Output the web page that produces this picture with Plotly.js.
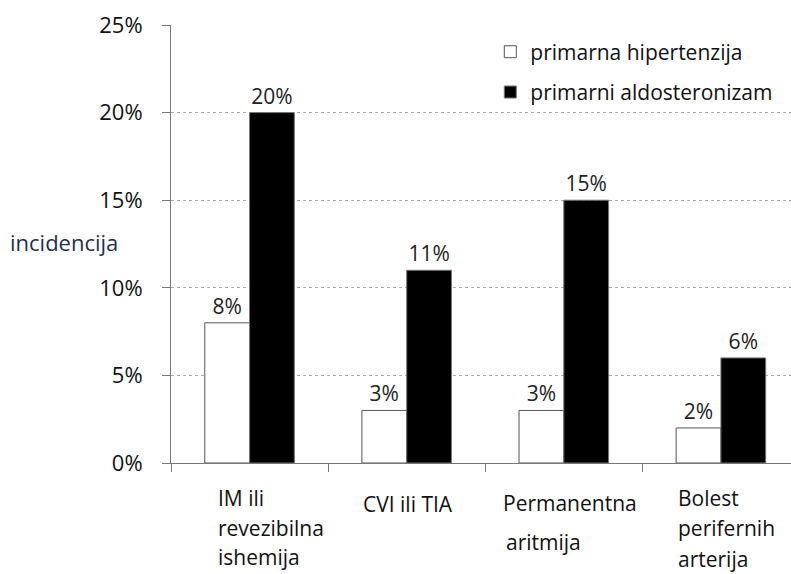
<!DOCTYPE html>
<html>
<head>
<meta charset="utf-8">
<script src="https://cdn.plot.ly/plotly-3.0.1.min.js"></script>
<style>html,body{margin:0;padding:0;background:#fff}#chart{width:791px;height:574px}</style>
</head>
<body>
<div id="chart"></div>
<script>
const categories = ["IM ili revezibilna ishemija", "CVI ili TIA", "Permanentna aritmija", "Bolest perifernih arterija"];
const categoryLines = [["IM ili", "revezibilna", "ishemija"], ["CVI ili TIA"], ["Permanentna", "aritmija"], ["Bolest", "perifernih", "arterija"]];
const seriesNames = ["primarna hipertenzija", "primarni aldosteronizam"];
const hipertenzija = [8, 3, 3, 2];
const aldosteronizam = [20, 11, 15, 6];
const yTicks = [0, 5, 10, 15, 20, 25];
const yTickLabels = ["0%", "5%", "10%", "15%", "20%", "25%"];

const FONT = "'Open Sans', sans-serif";
const idx = categories.map((_, i) => i);

const traces = [
  {
    type: "bar", name: seriesNames[0], x: idx, y: hipertenzija,
    marker: {color: "#ffffff", line: {color: "#555555", width: 1}},
    text: hipertenzija.map(v => v + "%"), textposition: "outside",
    textfont: {family: FONT, size: 21, color: "#222"}, cliponaxis: false,
    legendgroup: "a", hoverinfo: "none"
  },
  {
    type: "bar", name: seriesNames[1], x: idx, y: aldosteronizam,
    marker: {color: "#000000", line: {color: "#777777", width: 1}},
    text: aldosteronizam.map(v => v + "%"), textposition: "outside",
    textfont: {family: FONT, size: 21, color: "#222"}, cliponaxis: false,
    legendgroup: "b", hoverinfo: "none"
  }
];

// per-line label placement (pixel offsets from category centre / x-axis)
const lineX = [[-34, -34, -34], [-46], [-63, -60], [-45, -45, -45]];
const lineY = [[35, 65, 94], [41], [40, 79], [35, 65, 96]];
const annotations = [];
categoryLines.forEach((lines, i) => {
  lines.forEach((t, j) => {
    annotations.push({
      x: i, xref: "x", y: 0, yref: "paper", xanchor: "left", yanchor: "middle",
      xshift: lineX[i][j], yshift: -lineY[i][j],
      text: t, showarrow: false,
      font: {family: FONT, size: 21, color: "#111"}
    });
  });
});
annotations.push({
  x: 0, xref: "paper", y: 0.5, yref: "paper", xanchor: "left", yanchor: "middle",
  xshift: -163, yshift: 2,
  text: "incidencija", showarrow: false,
  font: {family: FONT, size: 22, color: "#1f2f4f"}
});

const layout = {
  width: 791, height: 574,
  margin: {l: 171, r: 0, t: 25, b: 111},
  paper_bgcolor: "#fff", plot_bgcolor: "#fff",
  barmode: "group", bargap: 0.43, bargroupgap: 0,
  showlegend: true,
  legend: {
    x: 0.515, y: 0.985, xanchor: "left", yanchor: "top",
    font: {family: FONT, size: 21, color: "#111"},
    traceorder: "grouped", tracegroupgap: 10,
    bgcolor: "rgba(0,0,0,0)"
  },
  xaxis: {
    range: [-0.5, 3.446], showticklabels: false,
    tickmode: "array", tickvals: [-0.5, 0.5, 1.5, 2.5, 3.5],
    ticks: "outside", ticklen: 8, tickcolor: "#777", tickwidth: 1,
    showgrid: false, showline: true, linecolor: "#777", linewidth: 1,
    zeroline: false, fixedrange: true
  },
  yaxis: {
    range: [0, 25], tickmode: "array", tickvals: yTicks, ticktext: yTickLabels,
    ticks: "outside", ticklen: 8, tickcolor: "#777", tickwidth: 1,
    ticklabelstandoff: 15,
    tickfont: {family: FONT, size: 22, color: "#111"},
    showgrid: true, gridcolor: "#aaaaaa", griddash: "3px,3px", gridwidth: 1,
    showline: true, linecolor: "#777", linewidth: 1, zeroline: false, fixedrange: true
  },
  annotations: annotations
};

Plotly.newPlot("chart", traces, layout, {displayModeBar: false, staticPlot: true});
</script>
</body>
</html>
